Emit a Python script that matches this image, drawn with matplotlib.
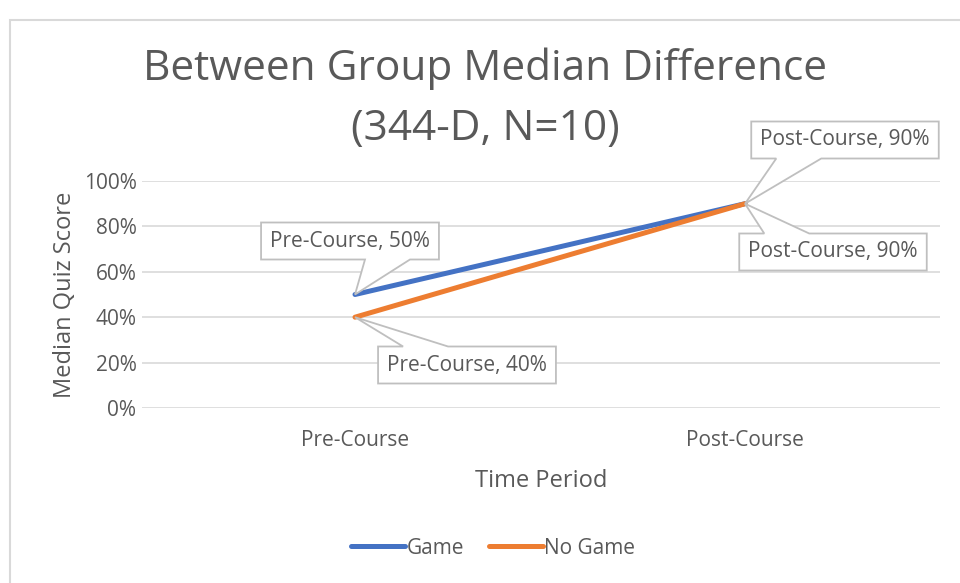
import matplotlib.pyplot as plt
from matplotlib.patches import Rectangle, Polygon
from matplotlib.transforms import IdentityTransform
from matplotlib.ticker import PercentFormatter

plt.rcParams['font.family'] = ['Open Sans', 'DejaVu Sans']

periods = ['Pre-Course', 'Post-Course']
game = [50, 90]
no_game = [40, 90]
yticks = [0, 20, 40, 60, 80, 100]

grey = '#595959'
W, H = 960, 583
fig = plt.figure(figsize=(W / 100, H / 100), dpi=100)
px = IdentityTransform()

# chart border (top and left visible)
fig.patches.append(Rectangle((10, -5), W, H - 15, transform=px,
                             fill=False, ec='#d9d9d9', lw=1.5))

ax = fig.add_axes([142 / W, (H - 408) / H, (940 - 142) / W, (408 - 181) / H])
x = list(range(len(periods)))
ax.plot(x, game, color='#4472C4', lw=3.6, solid_capstyle='round', label='Game', zorder=3)
ax.plot(x, no_game, color='#ED7D31', lw=3.6, solid_capstyle='round', label='No Game', zorder=3)

ax.set_xlim(-(355 - 142) / 390, 1 + (940 - 745) / 390)
ax.set_ylim(0, 100)
ax.set_yticks(yticks)
ax.yaxis.set_major_formatter(PercentFormatter(decimals=0))
ax.set_xticks(x)
ax.set_xticklabels(periods)
ax.grid(axis='y', color='#d9d9d9', lw=1.2)
ax.set_axisbelow(True)
for s in ax.spines.values():
    s.set_visible(False)
ax.tick_params(axis='both', length=0, labelsize=15, colors=grey)
ax.tick_params(axis='x', pad=16)
ax.tick_params(axis='y', pad=4)

ax.set_xlabel('Time Period', fontsize=17, color=grey, labelpad=13)
ax.set_ylabel('Median Quiz Score', fontsize=17, color=grey, labelpad=5)

fig.text(485 / W, (H - 69) / H, 'Between Group Median Difference', ha='center', va='center',
         fontsize=30.5, color=grey)
fig.text(485 / W, (H - 129) / H, '(344-D, N=10)', ha='center', va='center',
         fontsize=30.5, color=grey)

# data callouts: box centre in image pixels (from top)
labels = [(0, game[0], (350, 241)), (0, no_game[0], (467, 365)),
          (1, game[1], (845, 140)), (1, no_game[1], (833, 252))]
renderer = fig.canvas.get_renderer()
for xi, yi, (cx, cy) in labels:
    cy = H - cy
    t = ax.text(cx, cy, f'{periods[xi]}, {yi}%', transform=px, ha='center', va='center',
                fontsize=15, color=grey, zorder=6, clip_on=False)
    tw = t.get_window_extent(renderer).width
    l, r = cx - tw / 2 - 9, cx + tw / 2 + 9
    b, tp = cy - 18.5, cy + 18.5
    dx, dy = ax.transData.transform((xi, yi))
    b1 = min(max(dx + 10, l + 25), r - 70)
    b2 = b1 + 45
    if dy < b:
        pts = [(l, tp), (r, tp), (r, b), (b2, b), (dx, dy), (b1, b), (l, b)]
    else:
        pts = [(l, b), (r, b), (r, tp), (b2, tp), (dx, dy), (b1, tp), (l, tp)]
    ax.add_patch(Polygon(pts, closed=True, transform=px, fc='white', ec='#bfbfbf',
                         lw=1.3, zorder=5, clip_on=False))

fig.legend(loc='center', bbox_to_anchor=(493 / W, (H - 548) / H), ncol=2, frameon=False,
           fontsize=15, labelcolor=grey, handlelength=2.6, handletextpad=0.05,
           columnspacing=1.2)

fig.savefig('out.png', dpi=100)
